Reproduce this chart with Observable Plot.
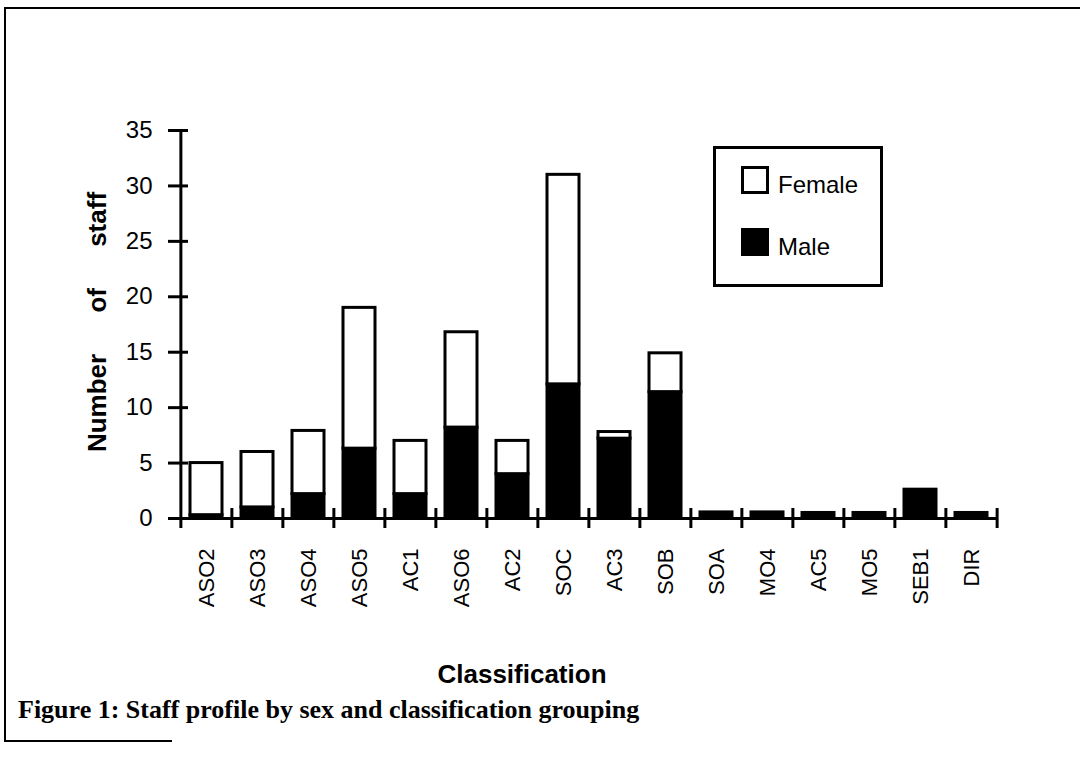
<!DOCTYPE html>
<html>
<head>
<meta charset="utf-8">
<script src="https://cdn.jsdelivr.net/npm/d3@7"></script>
<script src="https://cdn.jsdelivr.net/npm/@observablehq/plot@0.6"></script>
<style>
  body { margin: 0; background: #fff; }
  #fig { position: relative; width: 1080px; height: 757px; overflow: hidden; background: #fff;
         font-family: "Liberation Sans", Arial, Helvetica, sans-serif; color: #000; }
  #fig svg { position: absolute; left: 0; top: 0; }
  .line { position: absolute; background: #000; }
  #legend { position: absolute; left: 713px; top: 146px; width: 164px; height: 135px;
            border: 3px solid #000; background: #fff; }
  .sw { position: absolute; left: 25px; width: 22px; height: 22px; border: 3px solid #000; }
  .lt { position: absolute; left: 62px; font-size: 24px; line-height: 24px; }
  #xtitle { position: absolute; left: 0; width: 1044px; top: 659px; text-align: center;
            font-weight: bold; font-size: 26px; }
  #ytitle { position: absolute; left: 97px; top: 322px; transform: translate(-50%, -50%) rotate(-90deg);
            white-space: nowrap; font-weight: bold; font-size: 26px; word-spacing: 34px; }
  #caption { position: absolute; left: 18px; top: 695px; font-family: "Liberation Serif", "Times New Roman", serif;
             font-weight: bold; font-size: 26px; white-space: nowrap; }
</style>
</head>
<body>
<div id="fig">
  <div class="line" style="left:4px;top:7px;width:1076px;height:2px"></div>
  <div class="line" style="left:4px;top:7px;width:2px;height:735px"></div>
  <div class="line" style="left:4px;top:740px;width:168px;height:2px"></div>
  <div id="legend">
    <div class="sw" style="top:17px;background:#fff"></div>
    <div class="lt" style="top:24px">Female</div>
    <div class="sw" style="top:79px;background:#000"></div>
    <div class="lt" style="top:86px">Male</div>
  </div>
  <div id="xtitle">Classification</div>
  <div id="ytitle">Number of staff</div>
  <div id="caption">Figure 1: Staff profile by sex and classification grouping</div>
</div>
<script>
const categories = ["ASO2","ASO3","ASO4","ASO5","AC1","ASO6","AC2","SOC","AC3","SOB","SOA","MO4","AC5","MO5","SEB1","DIR"];
const male   = [0.3, 1.0, 2.2, 6.3, 2.2, 8.2, 4.0, 12.1, 7.2, 11.4, 0.55, 0.55, 0.5, 0.5, 2.6, 0.5];
const female = [4.7, 5.0, 5.7, 12.7, 4.8, 8.6, 3.0, 18.9, 0.6, 3.5, 0, 0, 0, 0, 0, 0];
const sexes = ["Male", "Female"];
const yTicks = [0, 5, 10, 15, 20, 25, 30, 35];

const rows = [];
categories.forEach((c, i) => {
  if (male[i] > 0) rows.push({cat: c, sex: "Male", count: male[i]});
  if (female[i] > 0) rows.push({cat: c, sex: "Female", count: female[i]});
});

const W = 1080, H = 700, mL = 178, mR = 82, mT = 130, mB = 182;
const FW = W - mL - mR, FH = H - mT - mB;
const step = FW / categories.length;

const chart = Plot.plot({
  width: W, height: H,
  marginLeft: mL, marginRight: mR, marginTop: mT, marginBottom: mB,
  style: {fontFamily: "'Liberation Sans', Arial, sans-serif", color: "#000", background: "transparent", overflow: "visible"},
  x: {domain: categories, paddingInner: 0.38, paddingOuter: 0.19, axis: null},
  y: {domain: [0, 35], axis: null},
  color: {domain: sexes, range: ["#000", "#fff"]},
  marks: [
    Plot.barY(rows, {x: "cat", y: "count", fill: "sex", stroke: "#000", strokeWidth: 3, order: sexes}),
    Plot.ruleY([0], {stroke: "#000", strokeWidth: 3, insetLeft: -10}),
    Plot.ruleY(yTicks, {stroke: "#000", strokeWidth: 3, insetLeft: -10, insetRight: FW - 10}),
    Plot.ruleX([categories[0]], {stroke: "#000", strokeWidth: 3, dx: -step / 2, insetBottom: -10}),
    Plot.ruleX(categories.slice(1), {stroke: "#000", strokeWidth: 3, dx: -step / 2, insetTop: FH - 10, insetBottom: -10}),
    Plot.ruleX([categories[categories.length - 1]], {stroke: "#000", strokeWidth: 3, dx: step / 2, insetTop: FH - 10, insetBottom: -10}),
    Plot.axisY({ticks: yTicks, tickSize: 0, tickPadding: 26, fontSize: 24, label: null}),
    Plot.axisX({tickSize: 0, tickRotate: -90, tickPadding: 30, fontSize: 22, label: null})
  ]
});
document.getElementById("fig").insertBefore(chart, document.getElementById("legend"));
</script>
</body>
</html>
